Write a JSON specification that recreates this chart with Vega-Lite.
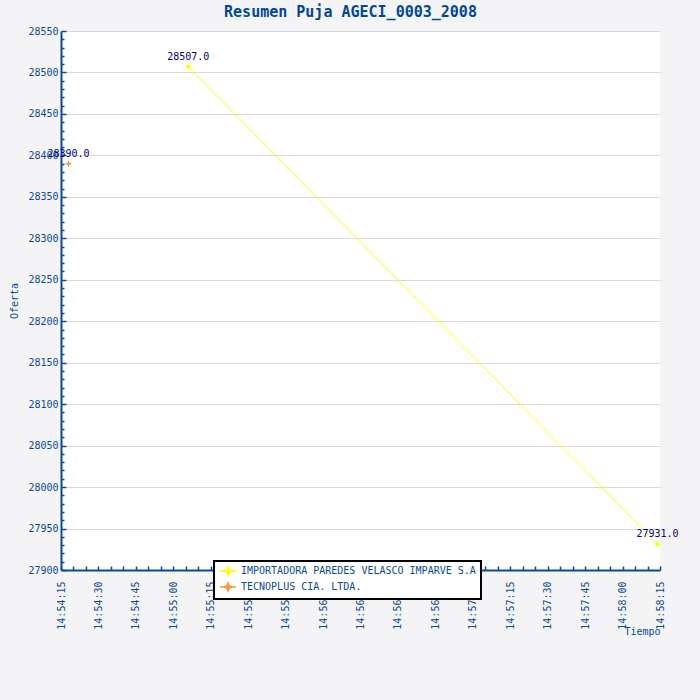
{
  "$schema": "https://vega.github.io/schema/vega-lite/v6.json",
  "autosize": {"type": "none"},
  "width": 599,
  "height": 539,
  "padding": {"left": 61, "top": 31, "right": 40, "bottom": 130},
  "background": "#f4f4f6",
  "config": {
    "view": {"stroke": null, "fill": "#ffffff"},
    "font": "DejaVu Sans Mono"
  },
  "title": {
    "text": "Resumen Puja AGECI_0003_2008",
    "font": "DejaVu Sans Mono",
    "fontSize": 15,
    "fontWeight": "bold",
    "color": "#00479c",
    "anchor": "middle",
    "dx": -10,
    "offset": 6
  },
  "data": {
    "values": [
      {"tiempo": "2008-01-01T14:54:18", "oferta": 28390, "oferente": "TECNOPLUS CIA. LTDA."},
      {"tiempo": "2008-01-01T14:55:06", "oferta": 28507, "oferente": "IMPORTADORA PAREDES VELASCO IMPARVE S.A"},
      {"tiempo": "2008-01-01T14:58:14", "oferta": 27931, "oferente": "IMPORTADORA PAREDES VELASCO IMPARVE S.A"}
    ]
  },
  "resolve": {"axis": {"x": "independent", "y": "independent"}},
  "layer": [
    {
      "mark": {"type": "line", "strokeWidth": 1},
      "encoding": {
        "x": {
          "field": "tiempo", "type": "temporal",
          "scale": {"domain": [
            {"year": 2008, "month": 1, "date": 1, "hours": 14, "minutes": 54, "seconds": 15},
            {"year": 2008, "month": 1, "date": 1, "hours": 14, "minutes": 58, "seconds": 15}
          ], "nice": false},
          "axis": {
            "orient": "bottom",
            "values": [
              {"year": 2008, "month": 1, "date": 1, "hours": 14, "minutes": 54, "seconds": 15},
              {"year": 2008, "month": 1, "date": 1, "hours": 14, "minutes": 54, "seconds": 30},
              {"year": 2008, "month": 1, "date": 1, "hours": 14, "minutes": 54, "seconds": 45},
              {"year": 2008, "month": 1, "date": 1, "hours": 14, "minutes": 55, "seconds": 0},
              {"year": 2008, "month": 1, "date": 1, "hours": 14, "minutes": 55, "seconds": 15},
              {"year": 2008, "month": 1, "date": 1, "hours": 14, "minutes": 55, "seconds": 30},
              {"year": 2008, "month": 1, "date": 1, "hours": 14, "minutes": 55, "seconds": 45},
              {"year": 2008, "month": 1, "date": 1, "hours": 14, "minutes": 56, "seconds": 0},
              {"year": 2008, "month": 1, "date": 1, "hours": 14, "minutes": 56, "seconds": 15},
              {"year": 2008, "month": 1, "date": 1, "hours": 14, "minutes": 56, "seconds": 30},
              {"year": 2008, "month": 1, "date": 1, "hours": 14, "minutes": 56, "seconds": 45},
              {"year": 2008, "month": 1, "date": 1, "hours": 14, "minutes": 57, "seconds": 0},
              {"year": 2008, "month": 1, "date": 1, "hours": 14, "minutes": 57, "seconds": 15},
              {"year": 2008, "month": 1, "date": 1, "hours": 14, "minutes": 57, "seconds": 30},
              {"year": 2008, "month": 1, "date": 1, "hours": 14, "minutes": 57, "seconds": 45},
              {"year": 2008, "month": 1, "date": 1, "hours": 14, "minutes": 58, "seconds": 0},
              {"year": 2008, "month": 1, "date": 1, "hours": 14, "minutes": 58, "seconds": 15}
            ],
            "format": "%H:%M:%S",
            "labelAngle": 270,
            "labelFont": "DejaVu Sans Mono",
            "labelFontSize": 10,
            "labelColor": "#0a4a9a",
            "labelPadding": 15,
            "labelFlush": false,
            "labelOverlap": false,
            "domainColor": "#0a4a9a",
            "domainWidth": 2,
            "tickColor": "#0a4a9a",
            "tickSize": -4,
            "tickWidth": 1.5,
            "grid": false,
            "title": "Tiempo",
            "titleFont": "DejaVu Sans Mono",
            "titleFontSize": 10,
            "titleFontWeight": "normal",
            "titleColor": "#0a4a9a",
            "titleAnchor": "end",
            "titleAlign": "right",
            "titleBaseline": "middle",
            "titleX": 599,
            "titleY": 61
          }
        },
        "y": {
          "field": "oferta", "type": "quantitative",
          "scale": {"domain": [27900, 28550], "nice": false, "zero": false},
          "axis": {
            "orient": "left",
            "values": [27900, 27950, 28000, 28050, 28100, 28150, 28200, 28250, 28300, 28350, 28400, 28450, 28500, 28550],
            "format": "d",
            "labelFont": "DejaVu Sans Mono",
            "labelFontSize": 10,
            "labelColor": "#0a4a9a",
            "labelPadding": 8,
            "labelFlush": false,
            "domainColor": "#0a4a9a",
            "domainWidth": 2,
            "tickColor": "#0a4a9a",
            "tickSize": -5,
            "tickWidth": 1.5,
            "grid": true,
            "gridColor": "#d9d9d9",
            "gridWidth": 1,
            "title": "Oferta",
            "titleFont": "DejaVu Sans Mono",
            "titleFontSize": 10,
            "titleFontWeight": "normal",
            "titleColor": "#0a4a9a",
            "titleAngle": 270,
            "titleAlign": "center",
            "titleBaseline": "middle",
            "titleX": -47,
            "titleY": 269.5
          }
        },
        "color": {
          "field": "oferente", "type": "nominal",
          "scale": {
            "domain": ["IMPORTADORA PAREDES VELASCO IMPARVE S.A", "TECNOPLUS CIA. LTDA."],
            "range": ["#ffff00", "#f7963c"]
          },
          "legend": {
            "title": null,
            "orient": "none",
            "legendX": 153,
            "legendY": 530,
            "fillColor": "#ffffff",
            "strokeColor": "#000000",
            "padding": 5,
            "symbolType": "M-2,0H2M0,-1L0.3,-0.3L1,0L0.3,0.3L0,1L-0.3,0.3L-1,0L-0.3,-0.3Z",
            "symbolSize": 64,
            "symbolStrokeWidth": 1.5,
            "symbolOffset": 4,
            "labelOffset": 8,
            "labelFont": "DejaVu Sans Mono",
            "labelFontSize": 10,
            "labelColor": "#0a4a9a",
            "labelLimit": 400,
            "rowPadding": 2,
            "encode": {
              "legend": {"update": {"strokeWidth": {"value": 2}}},
              "symbols": {"update": {
                "fill": {"scale": "color", "field": "value"},
                "stroke": {"scale": "color", "field": "value"}
              }}
            }
          }
        }
      }
    },
    {
      "mark": {
        "type": "point",
        "filled": true,
        "opacity": 1,
        "size": 49,
        "shape": "M0,-1L0.3,-0.3L1,0L0.3,0.3L0,1L-0.3,0.3L-1,0L-0.3,-0.3Z"
      },
      "encoding": {
        "x": {
          "field": "tiempo", "type": "temporal",
          "axis": {
            "orient": "bottom",
            "values": [
              {"year": 2008, "month": 1, "date": 1, "hours": 14, "minutes": 54, "seconds": 20},
              {"year": 2008, "month": 1, "date": 1, "hours": 14, "minutes": 54, "seconds": 25},
              {"year": 2008, "month": 1, "date": 1, "hours": 14, "minutes": 54, "seconds": 35},
              {"year": 2008, "month": 1, "date": 1, "hours": 14, "minutes": 54, "seconds": 40},
              {"year": 2008, "month": 1, "date": 1, "hours": 14, "minutes": 54, "seconds": 50},
              {"year": 2008, "month": 1, "date": 1, "hours": 14, "minutes": 54, "seconds": 55},
              {"year": 2008, "month": 1, "date": 1, "hours": 14, "minutes": 55, "seconds": 5},
              {"year": 2008, "month": 1, "date": 1, "hours": 14, "minutes": 55, "seconds": 10},
              {"year": 2008, "month": 1, "date": 1, "hours": 14, "minutes": 55, "seconds": 20},
              {"year": 2008, "month": 1, "date": 1, "hours": 14, "minutes": 55, "seconds": 25},
              {"year": 2008, "month": 1, "date": 1, "hours": 14, "minutes": 55, "seconds": 35},
              {"year": 2008, "month": 1, "date": 1, "hours": 14, "minutes": 55, "seconds": 40},
              {"year": 2008, "month": 1, "date": 1, "hours": 14, "minutes": 55, "seconds": 50},
              {"year": 2008, "month": 1, "date": 1, "hours": 14, "minutes": 55, "seconds": 55},
              {"year": 2008, "month": 1, "date": 1, "hours": 14, "minutes": 56, "seconds": 5},
              {"year": 2008, "month": 1, "date": 1, "hours": 14, "minutes": 56, "seconds": 10},
              {"year": 2008, "month": 1, "date": 1, "hours": 14, "minutes": 56, "seconds": 20},
              {"year": 2008, "month": 1, "date": 1, "hours": 14, "minutes": 56, "seconds": 25},
              {"year": 2008, "month": 1, "date": 1, "hours": 14, "minutes": 56, "seconds": 35},
              {"year": 2008, "month": 1, "date": 1, "hours": 14, "minutes": 56, "seconds": 40},
              {"year": 2008, "month": 1, "date": 1, "hours": 14, "minutes": 56, "seconds": 50},
              {"year": 2008, "month": 1, "date": 1, "hours": 14, "minutes": 56, "seconds": 55},
              {"year": 2008, "month": 1, "date": 1, "hours": 14, "minutes": 57, "seconds": 5},
              {"year": 2008, "month": 1, "date": 1, "hours": 14, "minutes": 57, "seconds": 10},
              {"year": 2008, "month": 1, "date": 1, "hours": 14, "minutes": 57, "seconds": 20},
              {"year": 2008, "month": 1, "date": 1, "hours": 14, "minutes": 57, "seconds": 25},
              {"year": 2008, "month": 1, "date": 1, "hours": 14, "minutes": 57, "seconds": 35},
              {"year": 2008, "month": 1, "date": 1, "hours": 14, "minutes": 57, "seconds": 40},
              {"year": 2008, "month": 1, "date": 1, "hours": 14, "minutes": 57, "seconds": 50},
              {"year": 2008, "month": 1, "date": 1, "hours": 14, "minutes": 57, "seconds": 55},
              {"year": 2008, "month": 1, "date": 1, "hours": 14, "minutes": 58, "seconds": 5},
              {"year": 2008, "month": 1, "date": 1, "hours": 14, "minutes": 58, "seconds": 10}
            ],
            "labels": false,
            "domain": false,
            "grid": false,
            "tickColor": "#0a4a9a",
            "tickSize": -4,
            "tickWidth": 1.5,
            "title": null
          }
        },
        "y": {
          "field": "oferta", "type": "quantitative",
          "axis": {
            "orient": "left",
            "values": [27910, 27920, 27930, 27940, 27960, 27970, 27980, 27990, 28010, 28020, 28030, 28040, 28060, 28070, 28080, 28090, 28110, 28120, 28130, 28140, 28160, 28170, 28180, 28190, 28210, 28220, 28230, 28240, 28260, 28270, 28280, 28290, 28310, 28320, 28330, 28340, 28360, 28370, 28380, 28390, 28410, 28420, 28430, 28440, 28460, 28470, 28480, 28490, 28510, 28520, 28530, 28540],
            "labels": false,
            "domain": false,
            "grid": false,
            "tickColor": "#0a4a9a",
            "tickSize": -3,
            "tickWidth": 1.5,
            "title": null
          }
        },
        "color": {
          "field": "oferente", "type": "nominal",
          "legend": {
            "title": null,
            "orient": "none",
            "legendX": 153,
            "legendY": 530,
            "fillColor": "#ffffff",
            "strokeColor": "#000000",
            "padding": 5,
            "symbolType": "M-2,0H2M0,-1L0.3,-0.3L1,0L0.3,0.3L0,1L-0.3,0.3L-1,0L-0.3,-0.3Z",
            "symbolSize": 64,
            "symbolStrokeWidth": 1.5,
            "symbolOffset": 4,
            "labelOffset": 8,
            "labelFont": "DejaVu Sans Mono",
            "labelFontSize": 10,
            "labelColor": "#0a4a9a",
            "labelLimit": 400,
            "rowPadding": 2,
            "encode": {
              "legend": {"update": {"strokeWidth": {"value": 2}}},
              "symbols": {"update": {
                "fill": {"scale": "color", "field": "value"},
                "stroke": {"scale": "color", "field": "value"}
              }}
            }
          }
        }
      }
    },
    {
      "mark": {
        "type": "text",
        "baseline": "alphabetic",
        "align": "center",
        "dy": -7,
        "font": "DejaVu Sans Mono",
        "fontSize": 10,
        "color": "#000080"
      },
      "encoding": {
        "x": {"field": "tiempo", "type": "temporal", "axis": null},
        "y": {"field": "oferta", "type": "quantitative", "axis": null},
        "text": {"field": "oferta", "type": "quantitative", "format": ".1f"}
      }
    }
  ]
}
